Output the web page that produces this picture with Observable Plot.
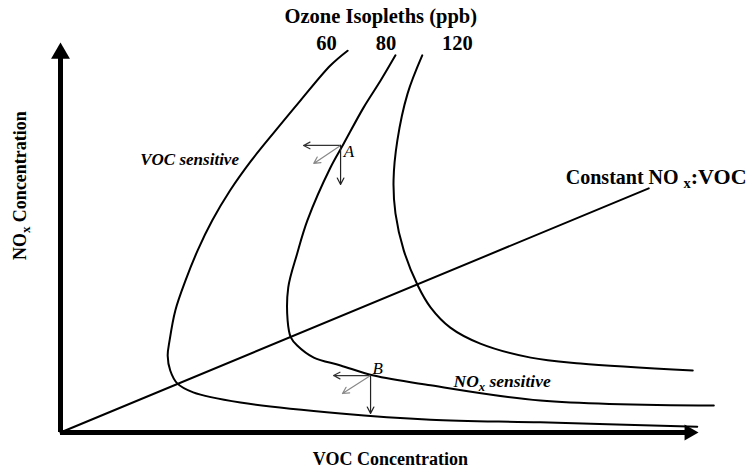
<!DOCTYPE html>
<html><head><meta charset="utf-8">
<script src="https://cdn.jsdelivr.net/npm/d3@7"></script>
<script src="https://cdn.jsdelivr.net/npm/@observablehq/plot@0.6"></script>
<style>body{margin:0;background:#fff}</style>
</head><body><div id="chart"></div>
<script>
// Isopleth curves: [VOC, NOx] in relative concentration units
const iso60 = [[45.0,97.9],[42.3,94.1],[37.6,85.1],[33.7,77.4],[29.9,69.7],[26.6,62.1],[23.8,54.4],[21.5,46.7],[19.6,39.0],[18.0,31.3],[17.1,23.6],[16.8,19.7],[17.2,15.9],[18.3,12.6],[20.8,10.3],[28.2,7.7],[43.9,4.9],[58.0,3.3],[75.2,2.6],[99.8,1.5]];
const iso80 = [[52.5,96.7],[50.2,90.3],[47.5,83.3],[44.4,74.1],[42.3,67.9],[38.7,54.4],[37.1,45.9],[35.7,37.2],[35.6,28.7],[36.1,24.4],[37.1,22.3],[39.7,19.2],[43.9,17.2],[49.1,14.6],[58.0,12.1],[75.2,8.2],[102.4,6.9]];
const iso120 = [[56.7,96.7],[54.4,86.9],[52.8,74.9],[52.2,64.6],[52.5,56.2],[53.8,46.7],[56.0,37.7],[58.0,32.1],[61.1,26.9],[65.8,22.8],[73.7,19.2],[81.5,17.7],[99.1,15.9]];
const isoLabels = ["60", "80", "120"];
const constantRatio = [[0,0],[92.2,62.6]];
const pointA = [43.9,73.6];
const responseA = [[38.1,73.6],[39.7,69.0],[43.9,63.6]];
const pointB = [48.6,14.6];
const responseB = [[42.8,14.6],[44.2,10.0],[48.6,4.9]];
const arrowShades = ["#333","#888","#222"];

const X = d => d[0], Y = d => d[1];
const serif = "Liberation Serif, Times New Roman, serif";

const arrowsFrom = (p, ends) => ends.map((e, i) => ({x1: p[0], y1: p[1], x2: e[0], y2: e[1], c: arrowShades[i]}));

const plot = Plot.plot({
  width: 752, height: 470,
  marginLeft: 60, marginRight: 54, marginTop: 42, marginBottom: 38,
  x: {domain: [0, 100], axis: null},
  y: {domain: [0, 100], axis: null},
  style: {fontFamily: serif, background: "#fff", color: "#000"},
  marks: [
    Plot.ruleX([0], {y1: 0, y2: 96, strokeWidth: 5, stroke: "black"}),
    Plot.ruleY([0], {x1: 0, x2: 98, strokeWidth: 5, stroke: "black"}),
    Plot.dot([[0, 100]], {x: X, y: Y, symbol: "triangle", r: 7, fill: "black", stroke: "none", dy: 10.9}),
    Plot.dot([[100, 0]], {x: X, y: Y, symbol: "triangle", r: 6, fill: "black", stroke: "none", rotate: 90, dx: -9.3}),
    Plot.line(constantRatio, {x: X, y: Y, strokeWidth: 2, stroke: "black"}),
    Plot.line(iso60, {x: X, y: Y, curve: "catmull-rom", strokeWidth: 2, stroke: "black"}),
    Plot.line(iso80, {x: X, y: Y, curve: "catmull-rom", strokeWidth: 2, stroke: "black"}),
    Plot.line(iso120, {x: X, y: Y, curve: "catmull-rom", strokeWidth: 2, stroke: "black"}),
    Plot.arrow(arrowsFrom(pointA, responseA), {x1: "x1", y1: "y1", x2: "x2", y2: "y2", stroke: "c", strokeWidth: 1.2, headLength: 9, headAngle: 55}),
    Plot.arrow(arrowsFrom(pointB, responseB), {x1: "x1", y1: "y1", x2: "x2", y2: "y2", stroke: "c", strokeWidth: 1.2, headLength: 9, headAngle: 55}),
    Plot.text(["Ozone Isopleths (ppb)"], {x: 50.2, y: 106.6, text: d => d, fontSize: 20.5, fontWeight: "bold", fill: "black"}),
    Plot.text(isoLabels, {x: (d, i) => [41.7, 51.0, 62.2][i], y: 99.7, text: d => d, fontSize: 20.5, fontWeight: "bold", fill: "black"}),
    Plot.text(["Constant NO_x:VOC"], {x: 79.2, y: 65.4, text: d => d, textAnchor: "start", fontSize: 20, fontWeight: "bold", fill: "black"}),
    Plot.text(["VOC sensitive"], {x: 12.5, y: 70.0, text: d => d, textAnchor: "start", fontSize: 17, fontWeight: "bold", fontStyle: "italic", fill: "black"}),
    Plot.text(["NO_x sensitive"], {x: 61.6, y: 13.1, text: d => d, textAnchor: "start", fontSize: 17.5, fontWeight: "bold", fontStyle: "italic", fill: "black"}),
    Plot.text(["A"], {x: 44.4, y: 72.1, text: d => d, textAnchor: "start", fontSize: 17, fontStyle: "italic", fill: "black"}),
    Plot.text(["B"], {x: 48.9, y: 16.4, text: d => d, textAnchor: "start", fontSize: 17, fontStyle: "italic", fill: "black"}),
    Plot.text(["VOC Concentration"], {x: 51.7, y: -6.9, text: d => d, fontSize: 18, fontWeight: "bold", fill: "black"}),
    Plot.text(["NO_x Concentration"], {x: -6.3, y: 63.3, text: d => d, rotate: -90, fontSize: 18, fontWeight: "bold", fill: "black"})
  ]
});

// render "_x" as a subscript x
plot.querySelectorAll("text").forEach(t => {
  const s = t.textContent;
  if (!s.includes("_x")) return;
  const isConst = s.startsWith("Constant");
  const [a, b] = s.split("_x");
  t.textContent = "";
  const ns = "http://www.w3.org/2000/svg";
  const t1 = document.createElementNS(ns, "tspan"); t1.textContent = a;
  const t2 = document.createElementNS(ns, "tspan"); t2.textContent = "x";
  t2.setAttribute("dy", "4"); t2.setAttribute("font-size", "0.72em");
  if (isConst) t2.setAttribute("dx", "5");
  const t3 = document.createElementNS(ns, "tspan"); t3.textContent = b;
  t3.setAttribute("dy", "-4");
  if (isConst) t3.setAttribute("font-size", "1.1em");
  t.append(t1, t2, t3);
});

document.getElementById("chart").append(plot);
</script>
</body></html>
